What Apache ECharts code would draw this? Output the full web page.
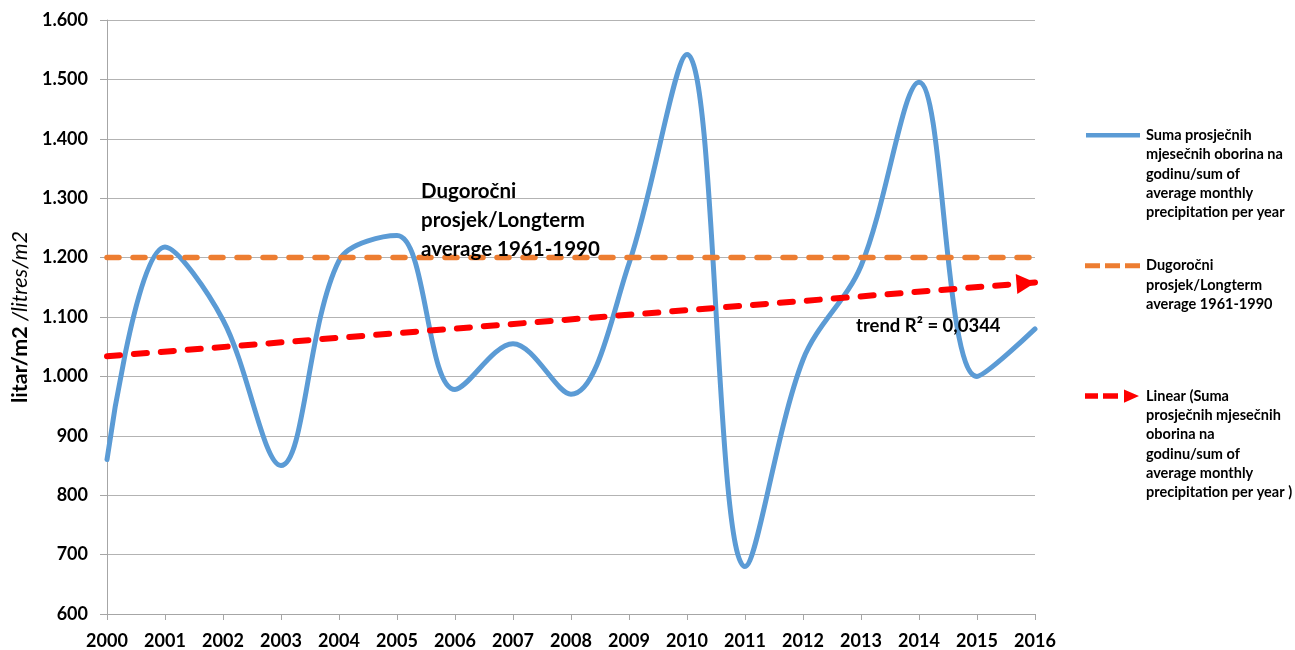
<!DOCTYPE html>
<html>
<head>
<meta charset="utf-8">
<script src="https://cdn.jsdelivr.net/npm/echarts@6/dist/echarts.min.js"></script>
<style>
  html, body { margin: 0; padding: 0; background: #fff; }
  #chart { width: 1295px; height: 650px; }
</style>
</head>
<body>
<div id="chart"></div>
<script>
const years = ['2000', '2001', '2002', '2003', '2004', '2005', '2006', '2007', '2008',
  '2009', '2010', '2011', '2012', '2013', '2014', '2015', '2016']
// litar/m2 po godini
const precipitation = [860, 1218, 1095, 850, 1195, 1237, 978, 1055, 970,
  1190, 1542, 680, 1028, 1186, 1495, 1000, 1080]
// dugogodisnji prosjek 1961-1990, od prve do zadnje godine
const longtermLine = [1200, 1200]
// linearni trend, vrijednosti na krajevima
const trendLine = [1034, 1158]
const yTicks = { min: 600, max: 1600, step: 100 }

const nameBlue = 'Suma prosječnih mjesečnih oborina na godinu/sum of average monthly precipitation per year'
const nameOrange = 'Dugoročni prosjek/Longterm average 1961-1990'
const nameRed = 'Linear (Suma prosječnih mjesečnih oborina na godinu/sum of average monthly precipitation per year )'

const FONT = 'Lato, "Open Sans", "Liberation Sans", sans-serif'
const LH = 19.3 // visina retka u legendi

const chart = echarts.init(document.getElementById('chart'))

const legendText = {
  fontFamily: FONT,
  fontWeight: 'bold',
  fontSize: 14.5,
  lineHeight: LH,
  color: '#000'
}

function legendBox(name, text, lines, top, icon) {
  return {
    data: [{ name: name, icon: icon }],
    formatter: text,
    left: 1085,
    top: top,
    padding: 0,
    itemWidth: 56,
    itemHeight: lines * LH,
    selectedMode: false,
    itemStyle: { borderWidth: 0 },
    textStyle: legendText
  }
}

const last = years[years.length - 1]

const option = {
  animation: false,
  grid: {
    left: 107,
    right: 260,
    top: 20,
    bottom: 36,
    containLabel: false,
    outerBoundsMode: 'none'
  },
  legend: [
    legendBox(nameBlue,
      'Suma prosječnih\nmjesečnih oborina na\ngodinu/sum of\naverage monthly\nprecipitation per year',
      5, 125.7,
      'path://M0,0M1,7.4H55V11.9H1ZM56,96.5'),
    legendBox(nameOrange,
      'Dugoročni\nprosjek/Longterm\naverage 1961-1990',
      3, 256,
      'path://M0,0M0,7.2H15V12.2H0ZM20,7.2H35V12.2H20ZM40,7.2H55V12.2H40ZM56,57.9'),
    legendBox(nameRed,
      'Linear (Suma\nprosječnih mjesečnih\noborina na\ngodinu/sum of\naverage monthly\nprecipitation per year )',
      6, 386.4,
      'path://M0,0M0,6.9H13V12.4H0ZM18,6.9H33V12.4H18ZM39,3L54,9.65L39,16.3ZM56,115.8')
  ],
  xAxis: {
    type: 'category',
    data: years,
    boundaryGap: false,
    axisLine: { lineStyle: { color: '#a6a6a6', width: 1 } },
    axisTick: { show: true, length: 6, lineStyle: { color: '#a6a6a6' } },
    axisLabel: {
      margin: 18,
      interval: 0,
      fontFamily: FONT,
      fontWeight: 'bold',
      fontSize: 18,
      color: '#000'
    },
    splitLine: { show: false }
  },
  yAxis: {
    type: 'value',
    min: yTicks.min,
    max: yTicks.max,
    interval: yTicks.step,
    name: '{a|litar/m2 }{b|/litres/m2}',
    nameLocation: 'middle',
    nameRotate: 90,
    nameGap: 76,
    nameTextStyle: {
      rich: {
        a: { fontFamily: FONT, fontWeight: 'bold', fontSize: 21.5, color: '#000' },
        b: { fontFamily: FONT, fontStyle: 'italic', fontSize: 21.5, color: '#000' }
      }
    },
    axisLine: { show: true, lineStyle: { color: '#a6a6a6', width: 1 } },
    axisTick: { show: true, length: 7, lineStyle: { color: '#a6a6a6' } },
    axisLabel: {
      margin: 19,
      fontFamily: FONT,
      fontWeight: 'bold',
      fontSize: 18,
      color: '#000',
      formatter: function (v) {
        if (v < 1000) return String(v)
        return Math.floor(v / 1000) + '.' + String(v % 1000).padStart(3, '0')
      }
    },
    splitLine: { show: true, lineStyle: { color: '#b3b3b3', width: 1 } }
  },
  series: [
    {
      name: nameBlue,
      type: 'line',
      data: precipitation,
      smooth: 0.35,
      symbol: 'none',
      lineStyle: { color: '#5B9BD5', width: 5, cap: 'round', join: 'round' },
      itemStyle: { color: '#5B9BD5' },
      z: 2
    },
    {
      name: nameOrange,
      type: 'line',
      data: [[years[0], longtermLine[0]], [last, longtermLine[1]]],
      symbol: 'none',
      lineStyle: { color: '#ED7D31', width: 5.5, type: [12, 14], cap: 'round' },
      itemStyle: { color: '#ED7D31' },
      z: 3
    },
    {
      name: nameRed,
      type: 'line',
      data: [
        { value: [years[0], trendLine[0]], symbol: 'none' },
        {
          value: [last, trendLine[1]],
          symbol: 'triangle',
          symbolSize: [20, 19],
          symbolRotate: -85.5,
          symbolOffset: [-9, 0.7]
        }
      ],
      showSymbol: true,
      lineStyle: { color: '#FF0000', width: 6, type: [13, 14], cap: 'round' },
      itemStyle: { color: '#FF0000' },
      z: 4
    }
  ],
  graphic: [
    {
      type: 'text',
      x: 421,
      y: 177,
      z: 10,
      style: {
        text: 'Dugoročni\nprosjek/Longterm\naverage 1961-1990',
        font: 'bold 20.5px ' + FONT,
        lineHeight: 29,
        fill: '#000',
        align: 'left',
        verticalAlign: 'top'
      }
    },
    {
      type: 'text',
      x: 856,
      y: 326,
      z: 10,
      style: {
        text: 'trend R² = 0,0344',
        font: 'bold 18.5px ' + FONT,
        fill: '#000',
        align: 'left',
        verticalAlign: 'middle'
      }
    }
  ]
}

chart.setOption(option)
</script>
</body>
</html>
